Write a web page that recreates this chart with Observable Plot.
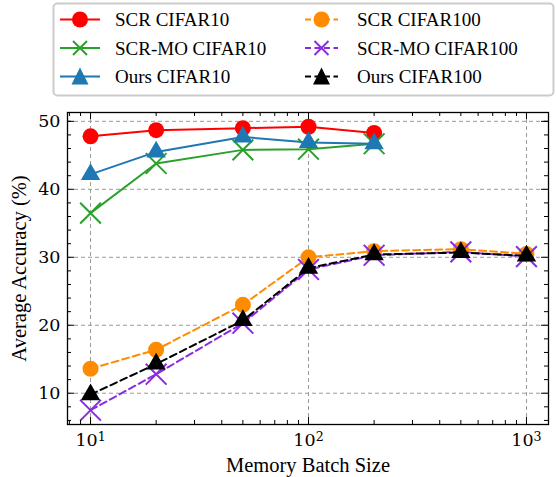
<!DOCTYPE html>
<html>
<head>
<meta charset="utf-8">
<script src="https://cdn.jsdelivr.net/npm/d3@7"></script>
<script src="https://cdn.jsdelivr.net/npm/@observablehq/plot@0.6"></script>
<style>
  body { margin: 0; background: #fff; }
  #wrap { width: 556px; height: 477px; position: relative; overflow: hidden; }
  svg { display: block; }
</style>
</head>
<body>
<div id="wrap"></div>
<script>
// ---- data ----
const batchC10 = [10, 20, 50, 100, 200];
const batchC100 = [10, 20, 50, 100, 200, 500, 1000];
const scrC10 = [47.8, 48.7, 49.0, 49.2, 48.3];
const scrmoC10 = [36.5, 43.8, 45.8, 45.9, 46.7];
const oursC10 = [42.2, 45.5, 47.7, 46.9, 46.7];
const scrC100 = [13.6, 16.4, 23.0, 30.0, 30.9, 31.2, 30.5];
const scrmoC100 = [7.5, 12.8, 20.3, 28.2, 30.3, 30.8, 30.1];
const oursC100 = [9.8, 14.3, 20.7, 28.4, 30.4, 30.7, 30.2];
const xMajor = [10, 100, 1000];
const xExp = ["1", "2", "3"];
const yMajor = [10, 20, 30, 40, 50];
const xMinor = [8, 9, 20, 30, 40, 50, 60, 70, 80, 90, 200, 300, 400, 500, 600, 700, 800, 900];
const yMinor = [6, 8, 12, 14, 16, 18, 22, 24, 26, 28, 32, 34, 36, 38, 42, 44, 46, 48, 50];

const series = [
  {name: "SCR CIFAR10", xs: batchC10, ys: scrC10, color: "#ff0000", symbol: "circle", dash: null},
  {name: "SCR-MO CIFAR10", xs: batchC10, ys: scrmoC10, color: "#2ca02c", symbol: "times", dash: null},
  {name: "Ours CIFAR10", xs: batchC10, ys: oursC10, color: "#1f77b4", symbol: "triangle", dash: null},
  {name: "SCR CIFAR100", xs: batchC100, ys: scrC100, color: "#ff8c00", symbol: "circle", dash: "7,4"},
  {name: "SCR-MO CIFAR100", xs: batchC100, ys: scrmoC100, color: "#8a2be2", symbol: "times", dash: "7,4"},
  {name: "Ours CIFAR100", xs: batchC100, ys: oursC100, color: "#000000", symbol: "triangle", dash: "7,4"}
];

const W = 556, H = 377, mT = 12, mB = 53, mL = 67, mR = 8;
const pH = H - mT - mB, pW = W - mL - mR;
const serif = "'Liberation Serif', 'Times New Roman', serif";
const tickFont = "'DejaVu Serif', serif";

function dotMark(data, s) {
  if (s.symbol === "times") {
    return Plot.dot(data, {x: "x", y: "y", symbol: "times", r: 9.5, stroke: s.color, strokeWidth: 2});
  }
  if (s.symbol === "triangle") {
    return Plot.dot(data, {x: "x", y: "y", symbol: "triangle", r: 7.2, fill: s.color, stroke: "none"});
  }
  return Plot.dot(data, {x: "x", y: "y", symbol: "circle", r: 8, fill: s.color, stroke: "none"});
}

const marks = [
  Plot.ruleX(xMajor, {stroke: "#999", strokeDasharray: "4,3", strokeWidth: 1}),
  Plot.ruleY(yMajor, {stroke: "#999", strokeDasharray: "4,3", strokeWidth: 1}),
];
for (const s of series) {
  const data = s.xs.map((x, i) => ({x, y: s.ys[i]}));
  marks.push(Plot.line(data, {x: "x", y: "y", stroke: s.color, strokeWidth: 2, strokeDasharray: s.dash}));
  marks.push(dotMark(data, s));
}
// inward ticks on all sides
const tk = {stroke: "#000", strokeWidth: 1};
marks.push(
  Plot.ruleX(xMajor, {...tk, insetTop: pH - 7}),
  Plot.ruleX(xMajor, {...tk, insetBottom: pH - 7}),
  Plot.ruleX(xMinor, {...tk, insetTop: pH - 4}),
  Plot.ruleX(xMinor, {...tk, insetBottom: pH - 4}),
  Plot.ruleY(yMajor, {...tk, insetRight: pW - 7}),
  Plot.ruleY(yMajor, {...tk, insetLeft: pW - 7}),
  Plot.ruleY(yMinor, {...tk, insetRight: pW - 4}),
  Plot.ruleY(yMinor, {...tk, insetLeft: pW - 4}),
  Plot.axisX(xMajor, {tickSize: 0, tickPadding: 9, fontSize: 20.5, fontFamily: serif,
    tickFormat: d => "10", label: "Memory Batch Size", labelAnchor: "center", labelArrow: "none", labelOffset: 47}),
  Plot.axisY(yMajor, {tickSize: 0, tickPadding: 7, fontSize: 20.5, fontFamily: serif,
    label: "Average Accuracy (%)", labelAnchor: "center", labelArrow: "none", labelOffset: 56}),
  Plot.frame({stroke: "#000", strokeWidth: 1.3})
);

const chart = Plot.plot({
  width: W, height: H,
  marginTop: mT, marginBottom: mB, marginLeft: mL, marginRight: mR,
  style: {fontFamily: serif, fontSize: "20.5px", color: "#000", background: "#fff"},
  x: {type: "log", domain: [7.84, 1262]},
  y: {domain: [5.4, 51.3]},
  marks
});

// tick label font + superscripts on log tick labels
const sel = d3.select(chart);
sel.selectAll('g[aria-label="x-axis tick label"], g[aria-label="y-axis tick label"]')
  .attr("font-family", tickFont).attr("font-size", 17.5);
sel.selectAll('g[aria-label="x-axis tick label"] text').each(function(d, i) {
  const t = d3.select(this);
  t.text("10");
  t.append("tspan").attr("dy", "-0.42em").attr("font-size", "0.72em").text(xExp[i]);
});

// ---- legend (SVG above the plot) ----
const leg = d3.create("svg").attr("width", W).attr("height", 100)
  .attr("font-family", serif).attr("font-size", 19);
leg.append("rect").attr("x", 53.5).attr("y", 3.5).attr("width", 500).attr("height", 92)
  .attr("rx", 4).attr("fill", "#fff").attr("stroke", "#cccccc").attr("stroke-width", 2);
const colX = [[60, 100, 115], [305, 338, 357]];
const rowY = [19.5, 48, 76.5];
series.forEach((s, i) => {
  const c = Math.floor(i / 3), r = i % 3;
  const [x0, x1, tx] = colX[c];
  const y = rowY[r];
  const g = leg.append("g");
  g.append("line").attr("x1", x0).attr("x2", x1).attr("y1", y).attr("y2", y)
    .attr("stroke", s.color).attr("stroke-width", 2).attr("stroke-dasharray", s.dash ? "6,3.5" : null);
  const xm = (x0 + x1) / 2;
  if (s.symbol === "circle") {
    g.append("circle").attr("cx", xm).attr("cy", y).attr("r", 8).attr("fill", s.color);
  } else if (s.symbol === "times") {
    g.append("path").attr("d", `M${xm-7},${y-7}L${xm+7},${y+7}M${xm-7},${y+7}L${xm+7},${y-7}`)
      .attr("stroke", s.color).attr("stroke-width", 2);
  } else {
    g.append("path").attr("d", `M${xm},${y-9}L${xm+8.5},${y+8}L${xm-8.5},${y+8}Z`).attr("fill", s.color);
  }
  g.append("text").attr("x", tx).attr("y", y).attr("dy", "0.35em").attr("fill", "#000").text(s.name);
});

const wrap = document.getElementById("wrap");
wrap.appendChild(leg.node());
wrap.appendChild(chart);
</script>
</body>
</html>
